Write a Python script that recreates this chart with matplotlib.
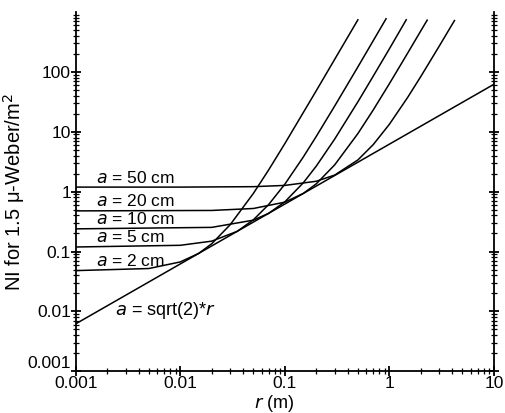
import matplotlib.pyplot as plt

plt.rcParams['font.family'] = ['Liberation Sans', 'DejaVu Sans']

# values: NI (A-turns) vs r (m) for each loop radius a
r_50 = [0.001, 0.01, 0.05, 0.1, 0.2, 0.3, 0.5, 0.7, 1.0, 1.5, 2.0, 3.0, 4.0, 4.2]
ni_50 = [1.19, 1.19, 1.21, 1.27, 1.49, 1.89, 3.38, 6.08, 13.3, 37.7, 83.7, 269, 625, 720]

r_20 = [0.001, 0.02, 0.05, 0.1, 0.15, 0.2, 0.3, 0.5, 0.7, 1.0, 1.5, 2.0, 2.3]
ni_20 = [0.477, 0.485, 0.523, 0.667, 0.932, 1.35, 2.80, 9.32, 23.0, 63.3, 207, 485, 730]

r_10 = [0.001, 0.02, 0.05, 0.07, 0.1, 0.15, 0.2, 0.3, 0.5, 0.7, 1.0, 1.45]
ni_10 = [0.239, 0.253, 0.334, 0.434, 0.675, 1.40, 2.67, 7.55, 31.6, 84.4, 242, 740]

r_5 = [0.001, 0.01, 0.02, 0.035, 0.05, 0.07, 0.1, 0.15, 0.2, 0.3, 0.5, 0.7, 0.93]
ni_5 = [0.119, 0.127, 0.149, 0.217, 0.338, 0.608, 1.33, 3.77, 8.37, 26.9, 121, 330, 770]

r_2 = [0.001, 0.005, 0.01, 0.015, 0.02, 0.03, 0.05, 0.07, 0.1, 0.2, 0.3, 0.5]
ni_2 = [0.048, 0.052, 0.067, 0.093, 0.135, 0.280, 0.932, 2.30, 6.33, 48.5, 162, 740]

r_opt = [0.001, 10]
ni_opt = [0.0062, 62]

curves = [(r_50, ni_50, '50'), (r_20, ni_20, '20'), (r_10, ni_10, '10'),
          (r_5, ni_5, '5'), (r_2, ni_2, '2')]

xticks = [0.001, 0.01, 0.1, 1, 10]
xlabels = ['0.001', '0.01', '0.1', '1', '10']
yticks = [0.001, 0.01, 0.1, 1, 10, 100]
ylabels = ['0.001', '0.01', '0.1', '1', '10', '100']

fig = plt.figure(figsize=(5.05, 4.13), dpi=100)
ax = fig.add_axes([0.150, 0.101, 0.828, 0.870])

for r, ni, lab in curves:
    ax.plot(r, ni, color='black', lw=1.1)
    ax.text(0.00155, ni[0] * 1.06, '$a$ = ' + lab + ' cm', fontsize=12.5,
            ha='left', va='bottom')
ax.plot(r_opt, ni_opt, color='black', lw=1.1)
ax.text(0.00235, 0.0068, '$a$ = sqrt(2)*$r$', fontsize=13, ha='left', va='bottom')

ax.set_xscale('log')
ax.set_yscale('log')
ax.set_xlim(0.001, 10)
ax.set_ylim(0.001, 1000)
ax.set_xticks(xticks, labels=xlabels)
ax.set_yticks(yticks, labels=ylabels)
ax.tick_params(which='major', direction='inout', length=7, width=1.3, labelsize=12.5,
               pad=0)
ax.tick_params(which='minor', direction='inout', length=4, width=0.9)
ax.tick_params(axis='y', which='both', right=True)
ax.spines['top'].set_visible(False)
for s in ['left', 'bottom', 'right']:
    ax.spines[s].set_linewidth(1.3)

# lowest y label sits a bit above the corner, as in the original
ax.get_yticklabels()[0].set_va('bottom')

ax.set_xlabel('$r$ (m)', fontsize=13, labelpad=-3)
ax.xaxis.set_label_coords(0.474, -0.06)
ax.set_ylabel('NI for 1.5 \u03bc-Weber/m$^2$', fontsize=14.5, labelpad=0)

fig.savefig('out.png', dpi=100)
